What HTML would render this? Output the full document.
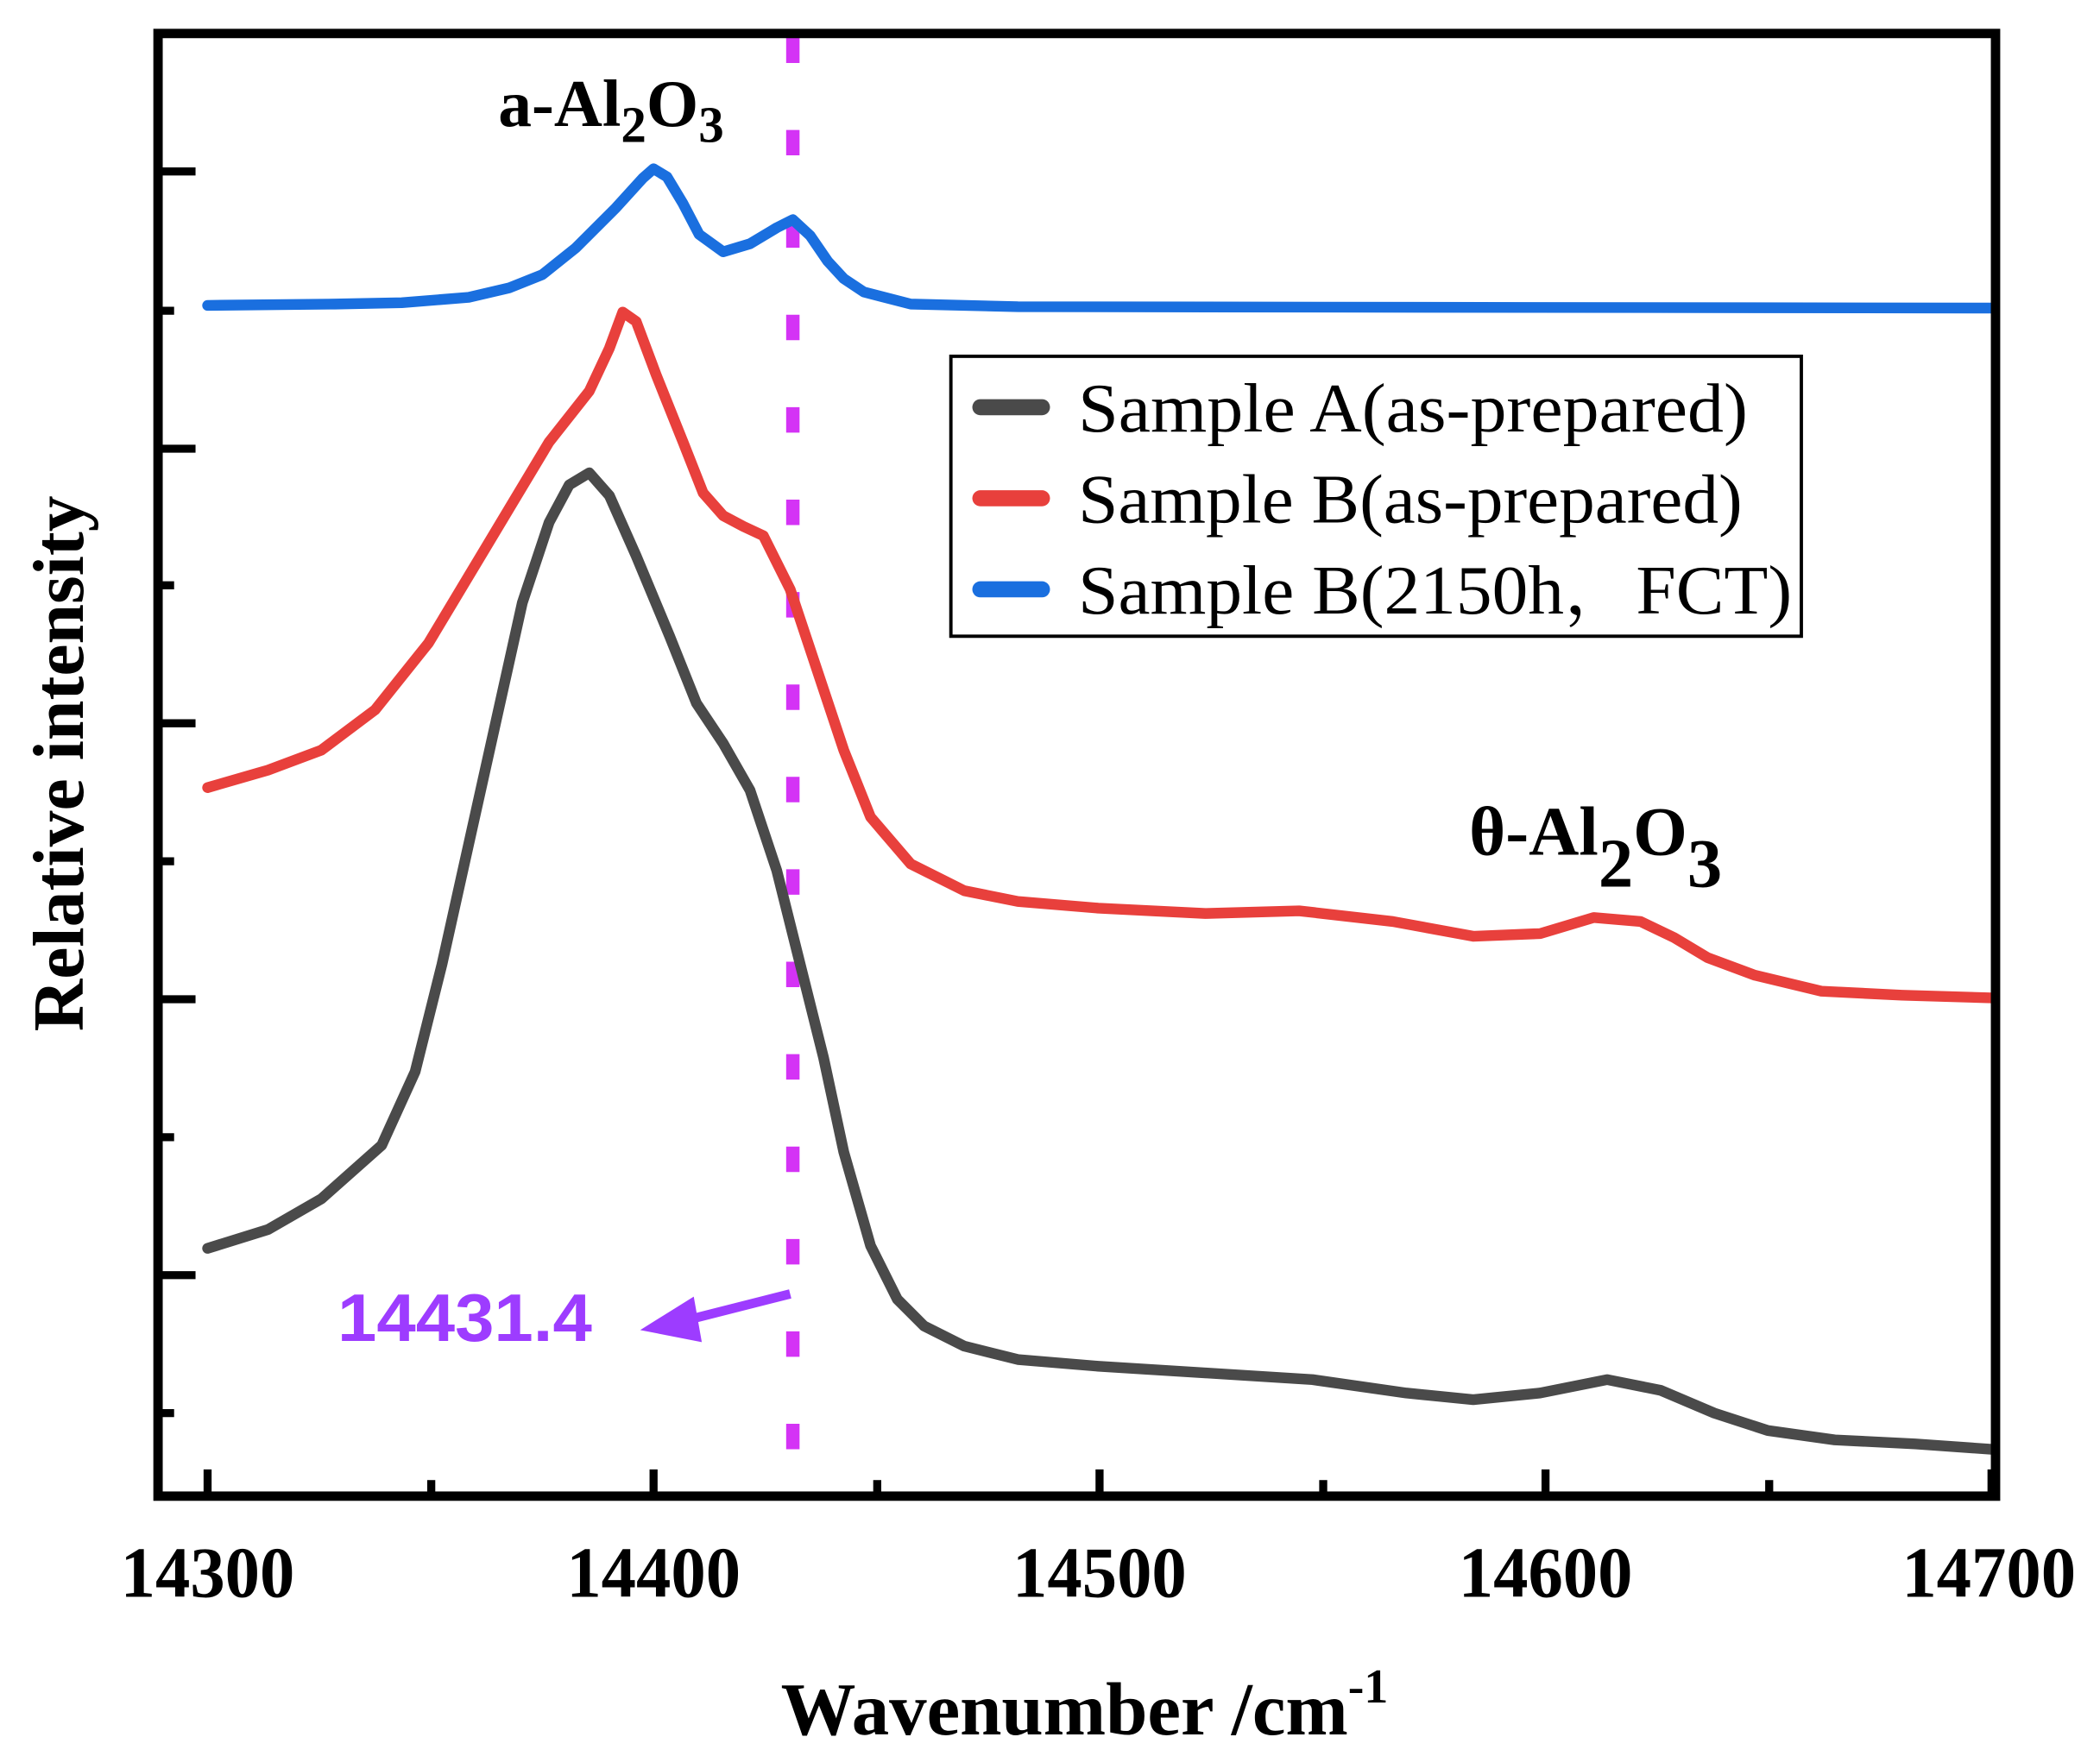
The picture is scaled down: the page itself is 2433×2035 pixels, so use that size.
<!DOCTYPE html>
<html><head><meta charset="utf-8"><style>
html,body{margin:0;padding:0;background:#fff;}
svg{display:block;}
</style></head><body>
<svg width="2433" height="2035" viewBox="0 0 1568 1311" preserveAspectRatio="none" xmlns="http://www.w3.org/2000/svg">
<rect width="1568" height="1311" fill="#fff"/>
<line x1="592" y1="28" x2="592" y2="1082" stroke="#d433f5" stroke-width="10" stroke-dasharray="19 50"/>
<g fill="none" stroke-width="8" stroke-linejoin="round" stroke-linecap="round">
<polyline stroke="#1a6fdf" points="155,228 250,227 300,226 350,222 380,215 405,205 430,185 460,155 480,133 488,126 498,132 510,152 522,175 540,188 560,182 580,170 592,164 605,176 618,195 630,208 645,218 680,227 760,229 1487,230"/>
<polyline stroke="#e8403c" points="155,588 200,575 240,560 280,530 320,480 350,430 380,380 410,330 440,292 455,260 465,233 475,240 490,280 510,330 525,368 540,385 555,393 570,400 590,440 610,500 630,560 650,610 680,645 720,665 760,673 820,678 900,682 970,680 1040,688 1100,699 1150,697 1190,685 1225,688 1250,700 1275,715 1310,728 1360,740 1420,743 1487,745"/>
<polyline stroke="#4a4a4a" points="155,932 200,918 240,895 285,855 310,800 330,720 350,630 370,540 390,450 410,390 425,362 440,353 455,370 475,415 500,475 520,525 540,555 560,590 580,650 600,730 615,790 630,860 650,930 670,970 690,990 720,1005 760,1015 820,1020 900,1025 980,1030 1050,1040 1100,1045 1150,1040 1200,1030 1240,1038 1280,1055 1320,1068 1370,1075 1430,1078 1487,1082"/>
</g>
<rect x="118" y="25" width="1372" height="1092" fill="none" stroke="#000" stroke-width="7"/>
<g stroke="#000" stroke-width="6">
<line x1="155" y1="1117" x2="155" y2="1097"/>
<line x1="322" y1="1117" x2="322" y2="1105"/>
<line x1="488" y1="1117" x2="488" y2="1097"/>
<line x1="655" y1="1117" x2="655" y2="1105"/>
<line x1="821" y1="1117" x2="821" y2="1097"/>
<line x1="988" y1="1117" x2="988" y2="1105"/>
<line x1="1154" y1="1117" x2="1154" y2="1097"/>
<line x1="1321" y1="1117" x2="1321" y2="1105"/>
<line x1="1487" y1="1117" x2="1487" y2="1097"/>
<line x1="118" y1="128" x2="146" y2="128"/>
<line x1="118" y1="232" x2="130" y2="232"/>
<line x1="118" y1="335" x2="146" y2="335"/>
<line x1="118" y1="437" x2="130" y2="437"/>
<line x1="118" y1="540" x2="146" y2="540"/>
<line x1="118" y1="643" x2="130" y2="643"/>
<line x1="118" y1="746" x2="146" y2="746"/>
<line x1="118" y1="849" x2="130" y2="849"/>
<line x1="118" y1="952" x2="146" y2="952"/>
<line x1="118" y1="1055" x2="130" y2="1055"/>
</g>
<g font-family="Liberation Serif, serif" font-weight="bold" font-size="54" fill="#000">
<text x="90" y="1192" textLength="130" lengthAdjust="spacingAndGlyphs">14300</text>
<text x="423" y="1192" textLength="130" lengthAdjust="spacingAndGlyphs">14400</text>
<text x="756" y="1192" textLength="130" lengthAdjust="spacingAndGlyphs">14500</text>
<text x="1089" y="1192" textLength="130" lengthAdjust="spacingAndGlyphs">14600</text>
<text x="1420" y="1192" textLength="130" lengthAdjust="spacingAndGlyphs">14700</text>
</g>
<text x="583" y="1295" font-family="Liberation Serif, serif" font-weight="bold" font-size="56">Wavenumber /cm<tspan font-size="36" dy="-24">-1</tspan></text>
<text transform="translate(62,570) rotate(-90)" font-family="Liberation Serif, serif" font-weight="bold" font-size="54" text-anchor="middle" textLength="400" lengthAdjust="spacingAndGlyphs">Relative intensity</text>
<rect x="710" y="266" width="635" height="209" fill="#fff" stroke="#000" stroke-width="2.5"/>
<g stroke-width="12" stroke-linecap="round">
<line x1="732" y1="304" x2="778" y2="304" stroke="#4a4a4a"/>
<line x1="732" y1="372" x2="778" y2="372" stroke="#e8403c"/>
<line x1="732" y1="440" x2="778" y2="440" stroke="#1a6fdf"/>
</g>
<g font-family="Liberation Serif, 'Noto Serif CJK SC', serif" font-size="52" fill="#000">
<text x="805" y="322" textLength="500" lengthAdjust="spacingAndGlyphs">Sample A(as-prepared)</text>
<text x="805" y="390" textLength="496" lengthAdjust="spacingAndGlyphs">Sample B(as-prepared)</text>
<text x="805" y="458" textLength="533" lengthAdjust="spacingAndGlyphs">Sample B(2150h，FCT)</text>
</g>
<text x="372" y="94" font-family="Liberation Serif, serif" font-weight="bold" font-size="50">a-Al<tspan font-size="38" dy="12">2</tspan><tspan dy="-12">O</tspan><tspan font-size="38" dy="12">3</tspan></text>
<text x="1097" y="638" font-family="Liberation Serif, serif" font-weight="bold" font-size="52">θ-Al<tspan dy="24">2</tspan><tspan dy="-24">O</tspan><tspan dy="24">3</tspan></text>
<text x="252" y="1001" font-family="Liberation Sans, sans-serif" font-weight="bold" font-size="50" fill="#9d3cff" textLength="190" lengthAdjust="spacingAndGlyphs">14431.4</text>
<line x1="590" y1="966" x2="515" y2="985" stroke="#9d3cff" stroke-width="7"/>
<polygon points="478,993 518,968 524,1002" fill="#9d3cff"/>
</svg>
</body></html>
